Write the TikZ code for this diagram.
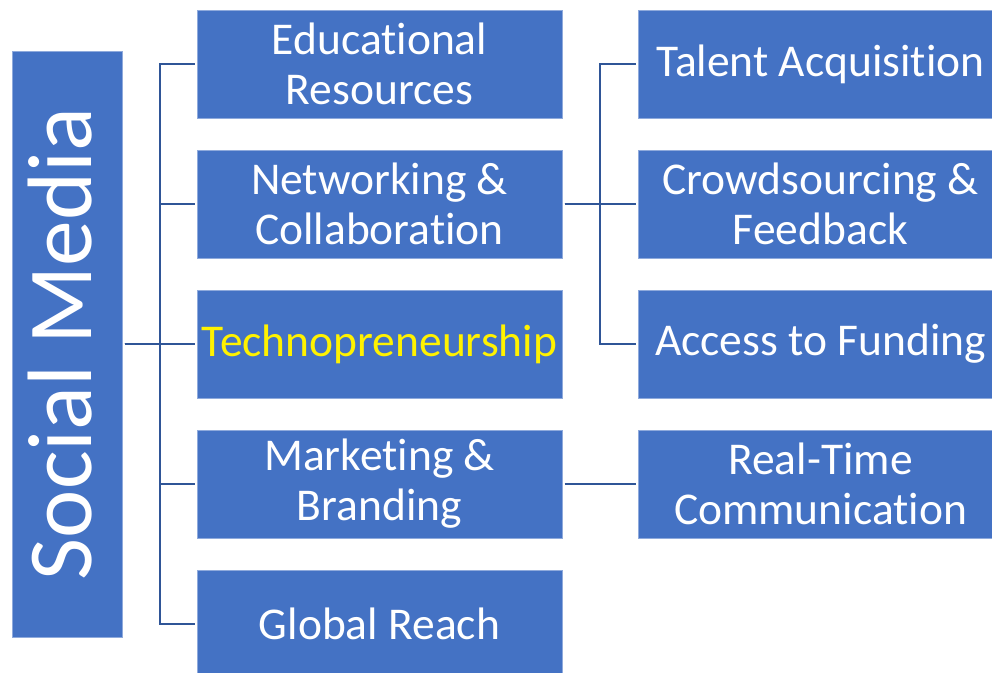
\documentclass[tikz,border=0pt]{standalone}
\usepackage{fontspec}
\setmainfont{Carlito}[Ligatures=NoCommon]
\usetikzlibrary{positioning}
\definecolor{boxblue}{HTML}{4472C4}
\definecolor{lineblue}{HTML}{2F5597}
\definecolor{edgeblue}{HTML}{8FAADC}

\begin{document}
\begin{tikzpicture}[box/.style={rectangle,fill=boxblue,draw=edgeblue,line width=0.6pt,text=white,align=center,
    minimum width=365pt,minimum height=108pt,inner sep=2pt,outer sep=0pt,font=\fontsize{45.5}{50}\selectfont},
  conn/.style={draw=lineblue,line width=2.6pt,shorten <=2.5pt,shorten >=2.5pt},
  node distance=32pt and 76pt]
  \useasboundingbox (0,0) rectangle (992pt,-672pt);
  % Root
  \node[box,minimum width=110pt,minimum height=586pt,font=\fontsize{91.5}{92}\selectfont] (social) at (67pt,-344pt) {\hspace*{-14pt}\raisebox{-3pt}{\rotatebox{90}{Social Media}}};
  % Middle column
  \node[box] (educ) at (379.5pt,-64pt) {Educational\\Resources};
  \node[box] (network) [below=of educ] {Networking \&\\Collaboration};
  \node[box,text=yellow] (techno) [below=of network] {Technopreneurship};
  \node[box] (market) [below=of techno] {Marketing \&\\Branding};
  \node[box] (reach) [below=of market] {Global Reach};
  % Right column
  \node[box] (talent) [right=of educ] {Talent Acquisition};
  \node[box] (crowd) [right=of network] {Crowdsourcing \&\\Feedback};
  \node[box] (funding) [right=of techno] {Access to Funding};
  \node[box] (realtime) [right=of market] {Real-Time\\Communication};
  % Draw connectors
  \foreach \m in {educ,network,techno,market,reach}
    \draw[conn] (social.east) -- ++(38pt,0) |- (\m.west);
  \foreach \m in {talent,crowd,funding}
    \draw[conn] (network.east) -- ++(38pt,0) |- (\m.west);
  \draw[conn] (market) -- (realtime);
\end{tikzpicture}
\end{document}
